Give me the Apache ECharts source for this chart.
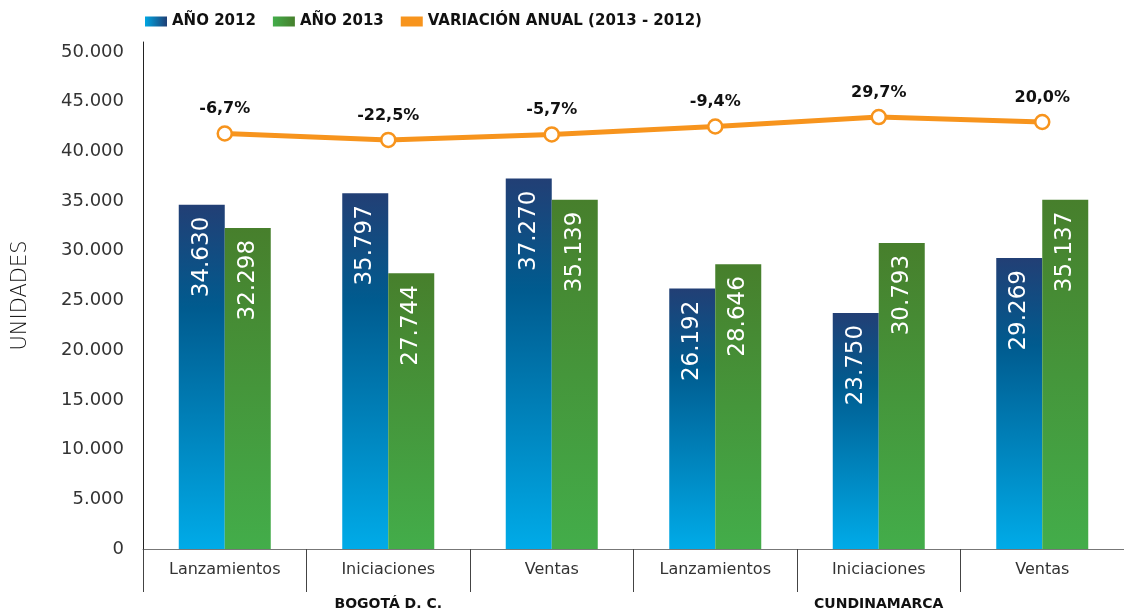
<!DOCTYPE html>
<html>
<head>
<meta charset="utf-8">
<script src="https://cdn.jsdelivr.net/npm/echarts@6/dist/echarts.min.js"></script>
<style>html,body{margin:0;padding:0;background:#fff}#c{width:1124px;height:611px}</style>
</head>
<body>
<div id="c"></div>
<script>
const categories = ['Lanzamientos','Iniciaciones','Ventas','Lanzamientos','Iniciaciones','Ventas'];
const groups = ['BOGOTÁ D. C.','CUNDINAMARCA'];
const year2012 = [34630, 35797, 37270, 26192, 23750, 29269];
const year2013 = [32298, 27744, 35139, 28646, 30793, 35137];
const variation = ['-6,7%','-22,5%','-5,7%','-9,4%','29,7%','20,0%'];
// height at which the variation line is drawn in the picture (units of the left axis)
const variationLevel = [41800, 41150, 41700, 42500, 43450, 42950];
const yTicks = [0,5000,10000,15000,20000,25000,30000,35000,40000,45000,50000];

const FONT = 'DejaVu Sans';
function fmt(v){ return String(v).replace(/\B(?=(\d{3})+(?!\d))/g,'.'); }

const blueGrad = new echarts.graphic.LinearGradient(0,0,0,1,[
  {offset:0,color:'#223f75'},{offset:0.3,color:'#005b8f'},{offset:1,color:'#00abe8'}]);
const greenGrad = new echarts.graphic.LinearGradient(0,0,0,1,[
  {offset:0,color:'#477f2c'},{offset:1,color:'#43ad4a'}]);
const blueLegend = new echarts.graphic.LinearGradient(0,0,1,0,[
  {offset:0,color:'#00a6e2'},{offset:1,color:'#1f3f75'}]);
const greenLegend = new echarts.graphic.LinearGradient(0,0,1,0,[
  {offset:0,color:'#43ad4a'},{offset:1,color:'#467f2c'}]);

const barLabel = {
  show:true, position:'insideTop', rotate:90, align:'right', verticalAlign:'middle',
  distance:12, color:'#fff', fontFamily:FONT, fontSize:23,
  formatter:p=>fmt(p.value)
};

const chart = echarts.init(document.getElementById('c'));
chart.setOption({
  animation:false,
  legend:{
    left:140, top:9, itemWidth:22, itemHeight:10, itemGap:17,
    textStyle:{fontFamily:FONT, fontWeight:'bold', fontSize:15, color:'#111'},
    data:[
      {name:'AÑO 2012',icon:'rect',itemStyle:{color:blueLegend}},
      {name:'AÑO 2013',icon:'rect',itemStyle:{color:greenLegend}},
      {name:'VARIACIÓN ANUAL (2013 - 2012)',icon:'rect',itemStyle:{color:'#f7941d',borderWidth:0},lineStyle:{width:0}}
    ]
  },
  grid:{left:143, right:0, top:42, bottom:62},
  xAxis:[{
    type:'category', data:categories,
    axisLine:{lineStyle:{color:'#777',width:1}},
    axisTick:{show:true, interval:0, length:43, lineStyle:{color:'#444'}},
    axisLabel:{interval:0, margin:13, color:'#333', fontFamily:FONT, fontSize:16}
  },{
    type:'category', data:groups, position:'bottom',
    axisLine:{show:false}, axisTick:{show:false},
    axisLabel:{interval:0, margin:48, color:'#111', fontFamily:FONT, fontSize:14, fontWeight:'bold'}
  }],
  yAxis:{
    type:'value', min:0, max:51000, interval:5000,
    name:'UNIDADES', nameLocation:'middle', nameGap:112, nameRotate:90,
    nameTextStyle:{fontFamily:FONT, fontSize:21, color:'#111', fontWeight:300},
    axisLine:{show:true, lineStyle:{color:'#222',width:1}},
    axisTick:{show:false}, splitLine:{show:false},
    axisLabel:{margin:19, color:'#333', fontFamily:FONT, fontSize:18,
      formatter:v=> yTicks.indexOf(v)>=0 ? fmt(v) : ''}
  },
  series:[
    {name:'AÑO 2012', type:'bar', data:year2012, barWidth:46, barGap:'0%',
      itemStyle:{color:blueGrad}, label:barLabel},
    {name:'AÑO 2013', type:'bar', data:year2013, barWidth:46, barGap:'0%',
      itemStyle:{color:greenGrad}, label:barLabel},
    {name:'VARIACIÓN ANUAL (2013 - 2012)', type:'line', data:variationLevel,
      symbol:'circle', symbolSize:14, z:5,
      lineStyle:{color:'#f7941d', width:5},
      itemStyle:{color:'#fff', borderColor:'#f7941d', borderWidth:2.5},
      label:{show:true, position:'top', distance:8, color:'#111', fontFamily:FONT, fontWeight:'bold', fontSize:16,
        formatter:p=>variation[p.dataIndex]}
    }
  ]
});
</script>
</body>
</html>
